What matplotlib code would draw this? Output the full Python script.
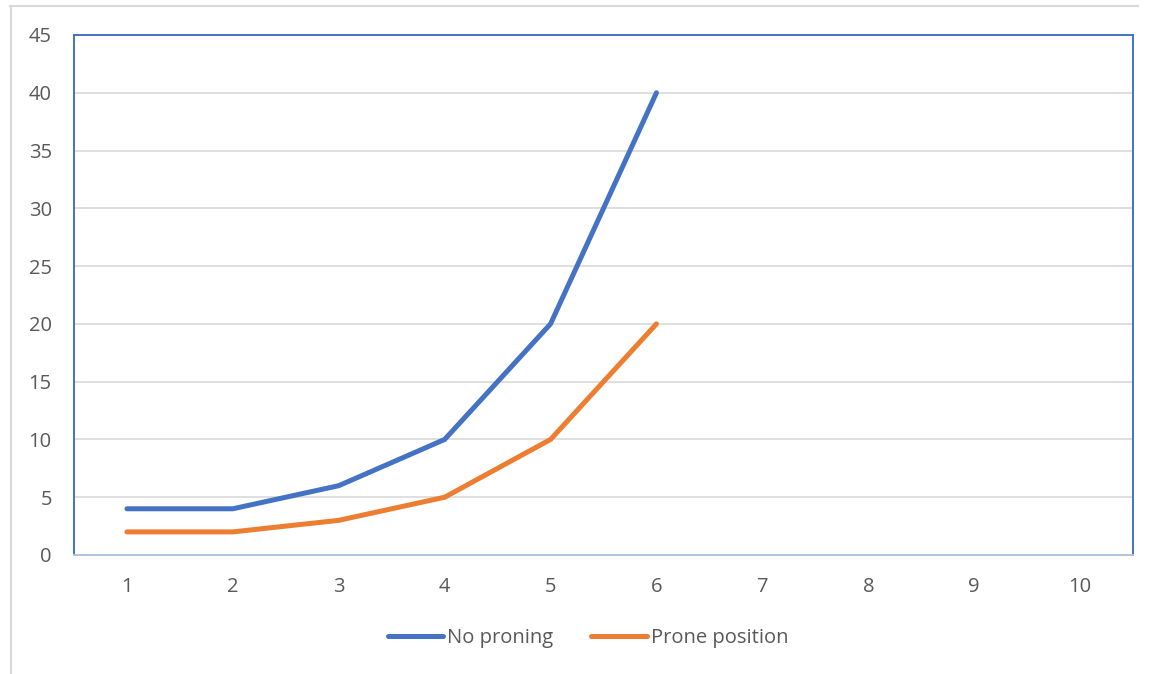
import matplotlib.pyplot as plt
from matplotlib.lines import Line2D

# series values per day
days = list(range(1, 11))
no_proning = [4, 4, 6, 10, 20, 40]
prone_position = [2, 2, 3, 5, 10, 20]
series_names = ["No proning", "Prone position"]
y_ticks = list(range(0, 50, 5))

C_BLUE, C_ORANGE = "#4472C4", "#ED7D31"
C_GRID, C_TXT = "#D9D9D9", "#595959"

plt.rcParams["font.family"] = ["Open Sans", "DejaVu Sans"]

W, H = 1149, 674
fig = plt.figure(figsize=(W / 100, H / 100), dpi=100)
ax = fig.add_axes([74 / W, 1 - 555 / H, (1133 - 74) / W, (555 - 35) / H])

ax.plot(days[:len(no_proning)], no_proning, color=C_BLUE, lw=3.6,
        solid_capstyle="round", solid_joinstyle="round", label=series_names[0], zorder=3)
ax.plot(days[:len(prone_position)], prone_position, color=C_ORANGE, lw=3.6,
        solid_capstyle="round", solid_joinstyle="round", label=series_names[1], zorder=3)

ax.set_xlim(0.5, 10.5)
ax.set_ylim(0, 45)
ax.set_xticks(days)
ax.set_yticks(y_ticks)
ax.tick_params(length=0, labelsize=14.5, colors=C_TXT)
ax.tick_params(axis="x", pad=16)
ax.tick_params(axis="y", pad=16)
ax.yaxis.grid(True, color=C_GRID, lw=1.2)
ax.set_axisbelow(True)

for side in ("top", "left", "right"):
    ax.spines[side].set_color(C_BLUE)
    ax.spines[side].set_linewidth(1.4)
ax.spines["bottom"].set_color("#B4C3E0")
ax.spines["bottom"].set_linewidth(1.4)

# outer chart frame (top and left edges)
fig.add_artist(Line2D([10 / W, 1138 / W], [1 - 6 / H, 1 - 6 / H], color=C_GRID, lw=1.5))
fig.add_artist(Line2D([10.5 / W, 10.5 / W], [1 - 6 / H, 0], color=C_GRID, lw=1.5))

leg = fig.legend(loc="center", bbox_to_anchor=(588 / W, 1 - 638 / H), ncol=2,
                 frameon=False, fontsize=14.5, handlelength=2.75, handletextpad=0.2,
                 columnspacing=1.9)
for t in leg.get_texts():
    t.set_color(C_TXT)

fig.savefig("out.png", dpi=100)
